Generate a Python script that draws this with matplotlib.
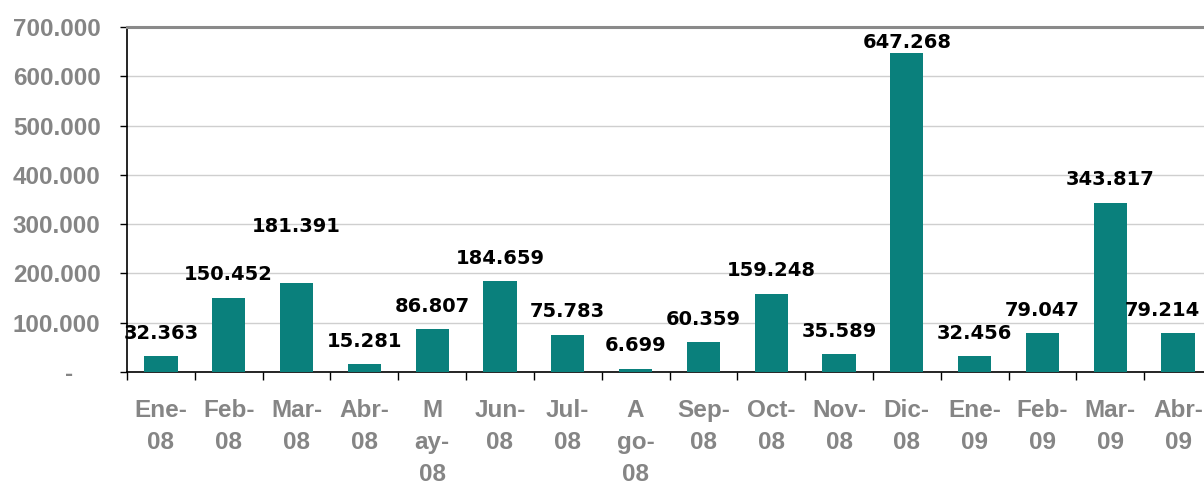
import matplotlib.pyplot as plt
from matplotlib.ticker import FixedLocator, FuncFormatter
from matplotlib.transforms import ScaledTranslation

# ── Data ────────────────────────────────────────────────────────────────────
months = ["Ene-\n08", "Feb-\n08", "Mar-\n08", "Abr-\n08", "M\nay-\n08", "Jun-\n08",
          "Jul-\n08", "A\ngo-\n08", "Sep-\n08", "Oct-\n08", "Nov-\n08", "Dic-\n08",
          "Ene-\n09", "Feb-\n09", "Mar-\n09", "Abr-\n09"]
values = [32363, 150452, 181391, 15281, 86807, 184659, 75783, 6699,
          60359, 159248, 35589, 647268, 32456, 79047, 343817, 79214]

y_ticks = [0, 100000, 200000, 300000, 400000, 500000, 600000, 700000]


def fmt_es(v, pos=None):
    if v == 0:
        return "-"
    return f"{v:,.0f}".replace(",", ".")


# ── Plot ────────────────────────────────────────────────────────────────────
gray = "#858585"
teal = "#0A807C"

fig = plt.figure(figsize=(12.04, 4.86), dpi=100)
ax = fig.add_axes([127 / 1204, 114 / 486, 1085 / 1204, 345 / 486])

x = list(range(len(values)))
ax.bar(x, values, width=0.49, color=teal, zorder=3)

ax.set_xlim(-0.5, len(values) - 0.5)
ax.set_ylim(0, 700000)

# horizontal grid
ax.yaxis.set_major_locator(FixedLocator(y_ticks))
ax.yaxis.set_major_formatter(FuncFormatter(fmt_es))
ax.grid(axis="y", color="#cfcfcf", linewidth=1.0, zorder=0)
ax.set_axisbelow(True)

# spines
ax.spines["top"].set_color("#8a8a8a")
ax.spines["top"].set_linewidth(2.2)
ax.spines["right"].set_visible(False)
ax.spines["left"].set_color("black")
ax.spines["left"].set_linewidth(1.2)
ax.spines["bottom"].set_color("black")
ax.spines["bottom"].set_linewidth(1.2)

# y tick labels
ax.tick_params(axis="y", direction="out", length=5, width=1.0, color="black", pad=14)
for lab in ax.get_yticklabels():
    lab.set_fontfamily("Liberation Sans")
    lab.set_fontweight("bold")
    lab.set_fontsize(17.5)
    lab.set_color(gray)
ylabs = ax.get_yticklabels()
ylabs[0].set_transform(ylabs[0].get_transform()
                       + ScaledTranslation(-27 / 100, 0, fig.dpi_scale_trans))

# x ticks: labels at centers, marks at boundaries
ax.set_xticks(x)
ax.set_xticklabels(months, fontfamily="Liberation Sans", fontweight="bold",
                   fontsize=17.5, color=gray, linespacing=1.5, va="top")
ax.set_xticks([i - 0.5 for i in range(len(values) + 1)], minor=True)
ax.tick_params(axis="x", which="major", length=0, pad=19.5)
ax.tick_params(axis="x", which="minor", direction="out", length=6, width=1.0,
               color="black")

# value labels (a few sit off the usual spot in the original)
extra = {2: (0, 24), 11: (0, -9), 15: (-11, 0)}
for i, v in enumerate(values):
    dx, dy = extra.get(i, (0, 0))
    ax.annotate(fmt_es(v), (i, v), xytext=(dx, 16.5 + dy), textcoords="offset points",
                ha="center", va="center", fontsize=14, fontweight="bold",
                fontfamily="DejaVu Sans", color="black", zorder=5,
                annotation_clip=False)

plt.savefig("out.png", dpi=100)
